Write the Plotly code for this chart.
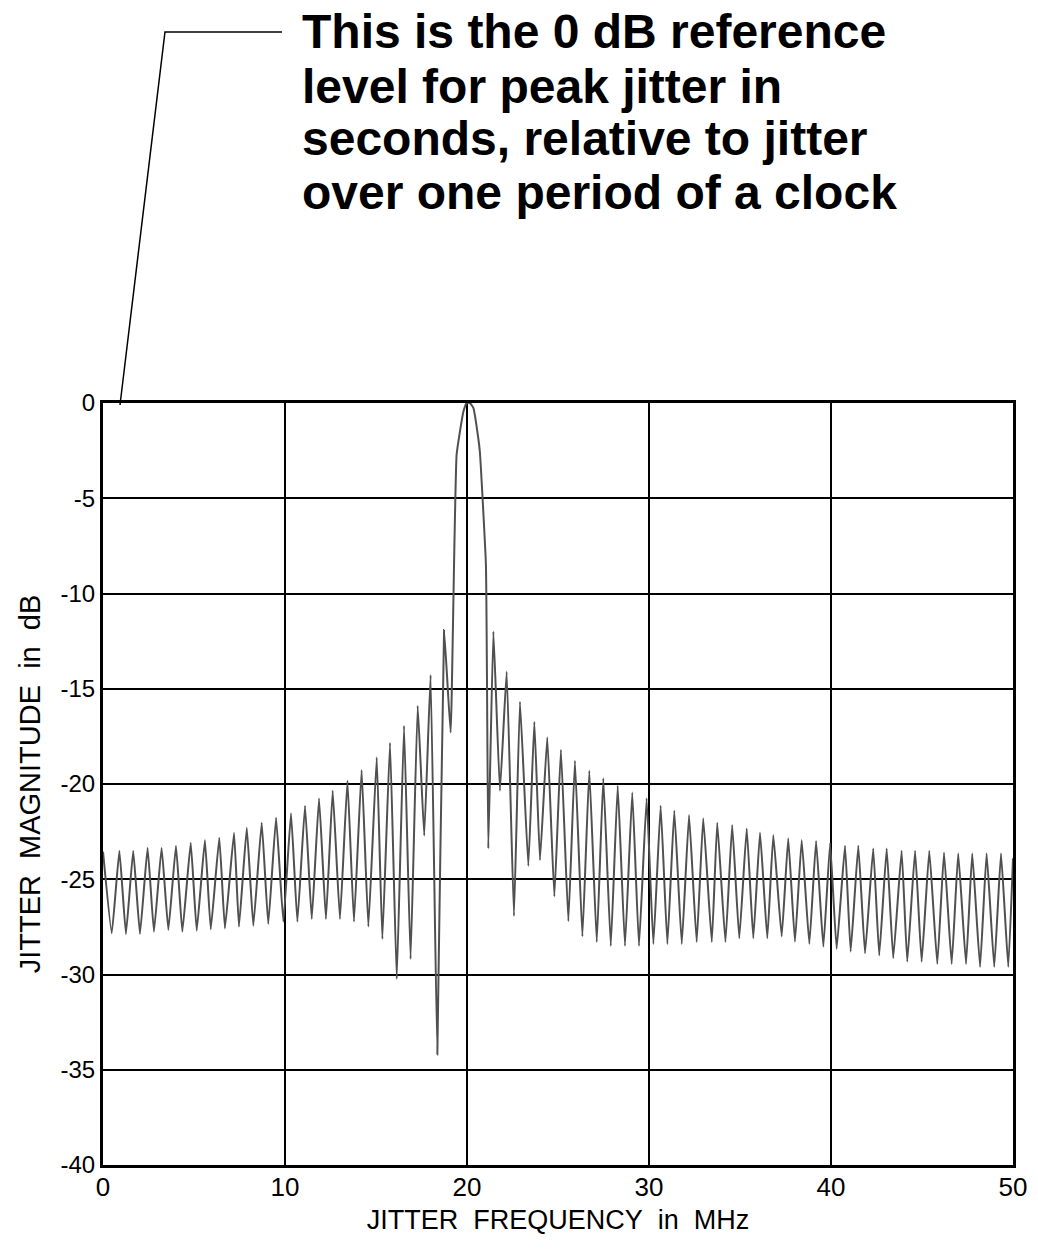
import plotly.graph_objects as go

# Jitter spectrum (MHz, dB)
freq_mhz = [0.00, 0.48, 0.90, 1.26, 1.66, 2.03, 2.45, 2.80, 3.22, 3.59, 4.01, 4.36, 4.82, 5.15,
            5.60, 5.92, 6.39, 6.70, 7.20, 7.47, 7.90, 8.26, 8.72, 9.08, 9.51, 9.91, 10.33, 10.68,
            11.10, 11.47, 11.87, 12.25, 12.62, 13.02, 13.43, 13.79, 14.21, 14.58, 15.04, 15.35,
            15.77, 16.14, 16.54, 16.90, 17.29, 17.65, 18.00, 18.37, 18.74, 19.10, 19.43, 19.80,
            19.98, 20.16, 20.35, 20.62, 20.71, 21.04, 21.17, 21.45, 21.81, 22.18, 22.58, 22.91,
            23.37, 23.70, 24.01, 24.41, 24.80, 25.16, 25.57, 25.93, 26.34, 26.72, 27.13, 27.49,
            27.90, 28.28, 28.68, 29.08, 29.45, 29.87, 30.24, 30.64, 31.01, 31.39, 31.80, 32.20,
            32.62, 32.98, 33.45, 33.75, 34.20, 34.57, 34.96, 35.37, 35.73, 36.10, 36.50, 36.83,
            37.29, 37.65, 38.02, 38.39, 38.81, 39.18, 39.58, 39.95, 40.31, 40.77, 41.08, 41.50,
            41.87, 42.32, 42.65, 43.06, 43.42, 43.88, 44.19, 44.62, 44.98, 45.40, 45.84, 46.21,
            46.63, 46.99, 47.42, 47.76, 48.19, 48.55, 48.97, 49.34, 49.74, 50.00]

magnitude_db = [-23.55, -27.84, -23.50, -27.87, -23.50, -27.87, -23.34, -27.75, -23.34, -27.66,
                -23.24, -27.75, -23.08, -27.70, -22.94, -27.63, -22.82, -27.58, -22.56, -27.49,
                -22.30, -27.44, -22.03, -27.35, -21.77, -27.23, -21.54, -27.23, -21.14, -27.09,
                -20.75, -27.09, -20.35, -27.09, -19.83, -27.23, -19.27, -27.49, -18.60, -28.14,
                -17.83, -30.24, -16.94, -29.19, -15.89, -22.71, -14.28, -34.20, -11.92, -17.30,
                -2.70, -0.46, 0.00, 0.00, -0.26, -1.85, -2.60, -8.50, -23.38, -12.00,
                -20.35, -14.10, -26.93, -15.68, -24.30, -16.73, -24.00, -17.55, -25.90, -18.20,
                -27.20, -18.78, -28.00, -19.30, -28.30, -19.70, -28.50, -20.09, -28.50, -20.45,
                -28.50, -20.75, -28.40, -21.14, -28.40, -21.40, -28.40, -21.63, -28.30, -21.80,
                -28.30, -22.03, -28.30, -22.15, -28.10, -22.33, -28.10, -22.55, -28.10, -22.68,
                -28.00, -22.85, -28.28, -22.94, -28.40, -22.99, -28.54, -23.11, -28.66, -23.24,
                -28.80, -23.24, -28.89, -23.38, -29.00, -23.38, -29.15, -23.50, -29.33, -23.50,
                -29.33, -23.50, -29.45, -23.59, -29.45, -23.64, -29.45, -23.64, -29.60, -23.64,
                -29.60, -23.64, -29.60, -23.90]

x_ticks = [0, 10, 20, 30, 40, 50]
x_tick_labels = ["0", "10", "20", "30", "40", "50"]
y_ticks = [0, -5, -10, -15, -20, -25, -30, -35, -40]
y_tick_labels = ["0", "-5", "-10", "-15", "-20", "-25", "-30", "-35", "-40"]

note_lines = ["This is the 0 dB reference",
              "level for peak jitter in",
              "seconds, relative to jitter",
              "over one period of a clock"]

FONT = "Liberation Sans, Arial, sans-serif"

fig = go.Figure()
fig.add_trace(go.Scatter(x=freq_mhz, y=magnitude_db, mode="lines",
                         line=dict(color="#505050", width=2, shape="spline", smoothing=0.35),
                         hoverinfo="x+y", showlegend=False))

fig.update_layout(
    width=1038, height=1251,
    margin=dict(l=103, r=25, t=403, b=86),
    paper_bgcolor="white", plot_bgcolor="white",
    font=dict(family=FONT, color="black"),
    xaxis=dict(range=[0, 50], tickvals=x_ticks, ticktext=x_tick_labels,
               showgrid=True, gridcolor="black", gridwidth=2, zeroline=False,
               showline=True, linecolor="black", linewidth=3, mirror=True,
               ticks="", tickfont=dict(family=FONT, size=26), ticklabelstandoff=-3,
               title=dict(text="JITTER\u00a0 FREQUENCY\u00a0 in\u00a0 MHz",
                          font=dict(family=FONT, size=27), standoff=9)),
    yaxis=dict(range=[-40, 0], tickvals=y_ticks, ticktext=y_tick_labels,
               showgrid=True, gridcolor="black", gridwidth=2, zeroline=False,
               showline=True, linecolor="black", linewidth=3, mirror=True,
               ticks="", tickfont=dict(family=FONT, size=24),
               title=dict(text="JITTER\u00a0 MAGNITUDE\u00a0 in\u00a0 dB",
                          font=dict(family=FONT, size=29), standoff=12)),
)

note_y = [1.487, 1.416, 1.3465, 1.2756]
for line_text, yy in zip(note_lines, note_y):
    fig.add_annotation(text="<b>" + line_text + "</b>", xref="paper", yref="paper",
                       x=0.2165, y=yy, xanchor="left", yanchor="middle", showarrow=False,
                       font=dict(family=FONT, size=48, color="black"))

# leader line from the note down to the 0 dB level
fig.add_shape(type="path", xref="paper", yref="paper",
              path="M 0.1967,1.487 L 0.0681,1.487 L 0.01868,0.9974",
              line=dict(color="black", width=1.5))

fig.write_html("out.html")
